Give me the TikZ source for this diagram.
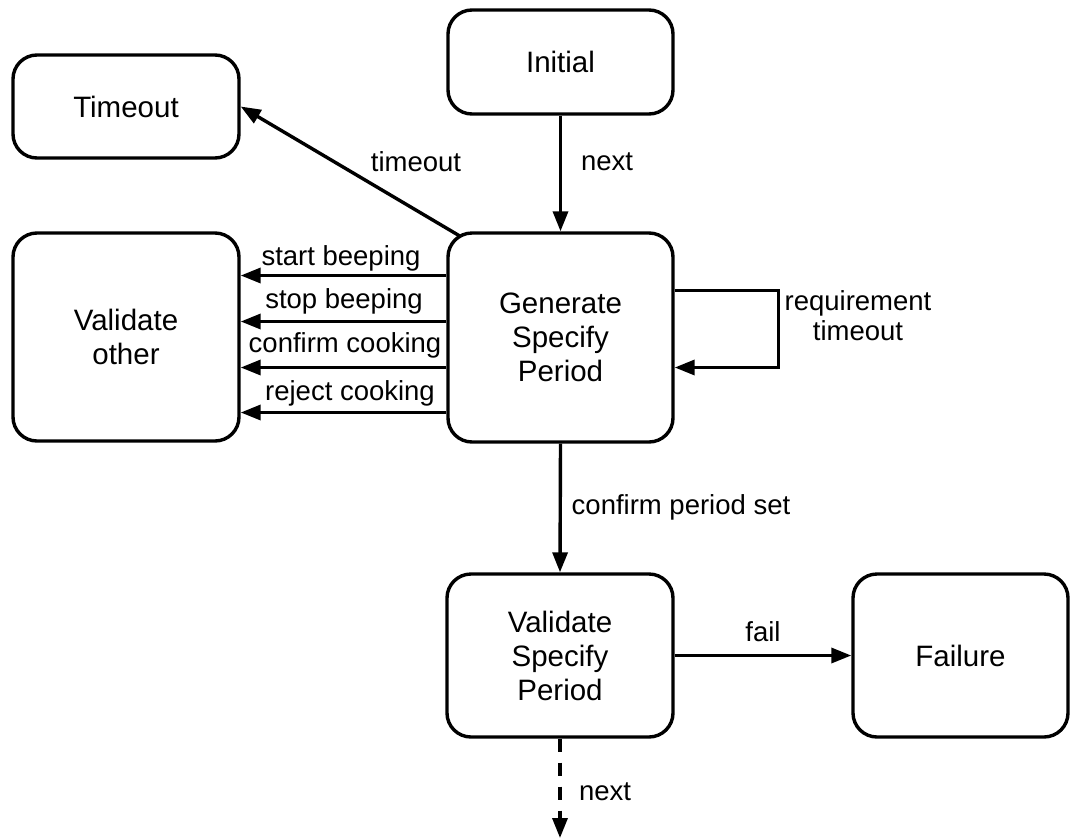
\documentclass[tikz,border=0pt]{standalone}
\usepackage{fontspec}
\setmainfont{Liberation Sans}
\usetikzlibrary{arrows.meta}
\begin{document}
\begin{tikzpicture}[x=1pt,y=-1pt,
  state/.style={draw, line width=3.4pt, rounded corners=24pt, inner sep=0pt,
    align=center, font=\fontsize{29.5}{34}\selectfont},
  arr/.style={line width=3.4pt, -{Triangle[length=20pt,width=15pt]}},
  lbl/.style={font=\fontsize{27.5}{30}\selectfont, inner sep=0pt, align=center}]
\useasboundingbox (0,0) rectangle (1071,839);

% states
\node[state, minimum width=225pt, minimum height=104pt] (ini) at (560.5,62) {Initial};
\node[state, minimum width=226pt, minimum height=103pt] (tmo) at (126,106.5) {Timeout};
\node[state, minimum width=226pt, minimum height=208pt] (vo) at (126,337) {Validate\\other};
\node[state, minimum width=225pt, minimum height=209pt] (gen) at (560.5,337.5) {Generate\\Specify\\Period};
\node[state, minimum width=226pt, minimum height=163pt] (vsp) at (560,655.5) {Validate\\Specify\\Period};
\node[state, minimum width=215pt, minimum height=163pt] (fail) at (960.5,655.5) {Failure};

% Initial -> Generate
\draw[arr] (ini.south) -- (gen.north);
\node[lbl] (lnext) at (607,162) {next};

% Generate -> Timeout
\coordinate (gt) at ([shift={(14,5)}]gen.north west);
\draw[arr] (gt) -- (tmo.east);
\node[lbl] (ltmo) at (416,162) {timeout};

% Generate -> Validate other
\coordinate (s1) at ([yshift=62pt]gen.west);
\coordinate (s2) at ([yshift=16pt]gen.west);
\coordinate (s3) at ([yshift=-30pt]gen.west);
\coordinate (s4) at ([yshift=-75pt]gen.west);
\draw[arr] (s1) -- (s1 -| vo.east);
\draw[arr] (s2) -- (s2 -| vo.east);
\draw[arr] (s3) -- (s3 -| vo.east);
\draw[arr] (s4) -- (s4 -| vo.east);
\node[lbl] (l1) at (341,258) {start beeping};
\node[lbl] (l2) at (344,301) {stop beeping};
\node[lbl] (l3) at (345,345) {confirm cooking};
\node[lbl] (l4) at (350,393) {reject cooking};

% self loop on Generate
\coordinate (la) at ([yshift=47pt]gen.east);
\coordinate (lb) at ([yshift=-30pt]gen.east);
\draw[arr, line join=miter] (la) -- ++(104,0) |- (lb);
\node[lbl] (lreq) at (858,316) {requirement\\timeout};

% Generate -> Validate Specify Period
\draw[arr] (gen.south) -- (vsp.north);
\node[lbl] (lcps) at (681,507) {confirm period set};

% Validate Specify Period -> Failure
\draw[arr] (vsp.east) -- (fail.west);
\node[lbl] (lfail) at (763,632) {fail};

% next (dashed)
\coordinate (nx) at (560,838);
\draw[arr, dash pattern=on 13pt off 11pt] (vsp.south) -- (nx);
\node[lbl] (lnext2) at (605,792) {next};
\end{tikzpicture}
\end{document}
